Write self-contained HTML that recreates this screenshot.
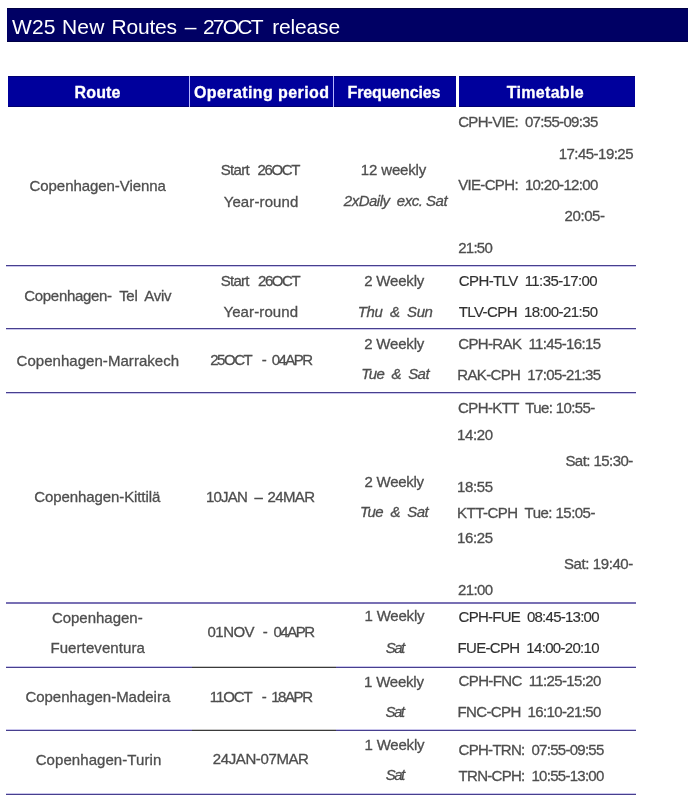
<!DOCTYPE html>
<html><head><meta charset="utf-8">
<style>
html,body{margin:0;padding:0;background:#fff;width:693px;height:800px;overflow:hidden}
body{position:relative;font-family:"Liberation Sans",sans-serif}
.t{position:absolute;white-space:pre;line-height:20px;-webkit-text-stroke:0.3px currentColor}
#tx{position:absolute;left:0;top:0;width:693px;height:800px;will-change:transform}
.r{position:absolute}
.ln{position:absolute;left:6px;width:630px;height:1px;background:#473f8e}
.lf{position:absolute;left:6px;width:630px;height:1px;background:#c9c5ec}
.bk{position:absolute;left:192px;width:144px;height:1px;background:#3a3a3a}
.bf{position:absolute;left:192px;width:144px;height:1px;background:#c8c8c8}
</style></head><body>
<div class="r" style="left:7px;top:8px;width:681px;height:34px;background:#000064;box-shadow:inset 0 1px 0 #000044,inset 0 -1px 0 #000044"></div>
<div class="r" style="left:8px;top:76px;width:627px;height:31px;background:#00009c;box-shadow:inset 0 1px 0 #000070,inset 0 -1px 0 #000070"></div>
<div class="r" style="left:189px;top:76px;width:1px;height:31px;background:#b8b8ff"></div>
<div class="r" style="left:333px;top:76px;width:1px;height:31px;background:#b8b8ff"></div>
<div class="r" style="left:456px;top:76px;width:3px;height:31px;background:#ffffff"></div>
<div class="ln" style="top:265px"></div><div class="lf" style="top:266px"></div>
<div class="ln" style="top:328px"></div><div class="lf" style="top:329px"></div>
<div class="ln" style="top:392px"></div><div class="lf" style="top:393px"></div>
<div class="ln" style="top:602px;background:#7870b4"></div><div class="ln" style="top:603px;background:#7870b4"></div>
<div class="ln" style="top:667px"></div><div class="lf" style="top:666px"></div>
<div class="bk" style="top:667px"></div><div class="bf" style="top:666px"></div>
<div class="ln" style="top:730px"></div><div class="lf" style="top:729px"></div>
<div class="bk" style="top:730px"></div><div class="bf" style="top:729px"></div>
<div class="ln" style="top:794px"></div><div class="lf" style="top:793px"></div>
<div id="tx"><div class="t" style="left:12.10px;top:16.62px;font-size:21px;font-weight:400;font-style:normal;color:#ffffff;letter-spacing:0.100px;-webkit-text-stroke:0">W25</div>
<div class="t" style="left:61.90px;top:16.62px;font-size:21px;font-weight:400;font-style:normal;color:#ffffff;letter-spacing:0.278px;-webkit-text-stroke:0">New</div>
<div class="t" style="left:111.50px;top:16.62px;font-size:21px;font-weight:400;font-style:normal;color:#ffffff;letter-spacing:-0.188px;-webkit-text-stroke:0">Routes</div>
<div class="t" style="left:184.70px;top:16.62px;font-size:21px;font-weight:400;font-style:normal;color:#ffffff;letter-spacing:-0.500px;-webkit-text-stroke:0">–</div>
<div class="t" style="left:202.90px;top:16.62px;font-size:21px;font-weight:400;font-style:normal;color:#ffffff;letter-spacing:-1.740px;-webkit-text-stroke:0">27OCT</div>
<div class="t" style="left:272.20px;top:16.62px;font-size:21px;font-weight:400;font-style:normal;color:#ffffff;letter-spacing:-0.166px;-webkit-text-stroke:0">release</div>
<div class="t" style="left:74.60px;top:83.26px;font-size:16px;font-weight:700;font-style:normal;color:#ffffff;letter-spacing:0.143px">Route</div>
<div class="t" style="left:193.90px;top:82.96px;font-size:16px;font-weight:700;font-style:normal;color:#ffffff;letter-spacing:0.412px">Operating period</div>
<div class="t" style="left:347.50px;top:82.96px;font-size:16px;font-weight:700;font-style:normal;color:#ffffff;letter-spacing:-0.136px">Frequencies</div>
<div class="t" style="left:506.70px;top:82.96px;font-size:16px;font-weight:700;font-style:normal;color:#ffffff;letter-spacing:0.313px">Timetable</div>
<div class="t" style="left:29.50px;top:176.00px;font-size:15px;font-weight:400;font-style:normal;color:#4e4e4e;letter-spacing:-0.056px">Copenhagen-Vienna</div>
<div class="t" style="left:220.80px;top:160.30px;font-size:15px;font-weight:400;font-style:normal;color:#4e4e4e;letter-spacing:-0.727px">Start</div>
<div class="t" style="left:257.60px;top:160.30px;font-size:15px;font-weight:400;font-style:normal;color:#4e4e4e;letter-spacing:-1.396px">26OCT</div>
<div class="t" style="left:223.70px;top:191.60px;font-size:15px;font-weight:400;font-style:normal;color:#4e4e4e;letter-spacing:0.108px">Year-round</div>
<div class="t" style="left:360.80px;top:160.30px;font-size:15px;font-weight:400;font-style:normal;color:#4e4e4e;letter-spacing:-0.150px">12 weekly</div>
<div class="t" style="left:343.80px;top:191.40px;font-size:15px;font-weight:400;font-style:italic;color:#4e4e4e;letter-spacing:-0.496px">2xDaily  exc. Sat</div>
<div class="t" style="left:458.20px;top:112.40px;font-size:15px;font-weight:400;font-style:normal;color:#4e4e4e;letter-spacing:-0.664px">CPH-VIE:  07:55-09:35</div>
<div class="t" style="left:558.70px;top:144.20px;font-size:15px;font-weight:400;font-style:normal;color:#4e4e4e;letter-spacing:-0.523px">17:45-19:25</div>
<div class="t" style="left:458.20px;top:174.90px;font-size:15px;font-weight:400;font-style:normal;color:#4e4e4e;letter-spacing:-0.664px">VIE-CPH:  10:20-12:00</div>
<div class="t" style="left:564.60px;top:206.40px;font-size:15px;font-weight:400;font-style:normal;color:#4e4e4e;letter-spacing:-0.427px">20:05-</div>
<div class="t" style="left:458.20px;top:238.00px;font-size:15px;font-weight:400;font-style:normal;color:#4e4e4e;letter-spacing:-0.724px">21:50</div>
<div class="t" style="left:24.30px;top:286.00px;font-size:15px;font-weight:400;font-style:normal;color:#4e4e4e;letter-spacing:-0.315px">Copenhagen-  Tel  Aviv</div>
<div class="t" style="left:220.80px;top:270.70px;font-size:15px;font-weight:400;font-style:normal;color:#4e4e4e;letter-spacing:-0.777px">Start</div>
<div class="t" style="left:258.00px;top:270.70px;font-size:15px;font-weight:400;font-style:normal;color:#4e4e4e;letter-spacing:-1.446px">26OCT</div>
<div class="t" style="left:223.40px;top:301.90px;font-size:15px;font-weight:400;font-style:normal;color:#4e4e4e;letter-spacing:0.119px">Year-round</div>
<div class="t" style="left:364.20px;top:270.70px;font-size:15px;font-weight:400;font-style:normal;color:#4e4e4e;letter-spacing:-0.188px">2 Weekly</div>
<div class="t" style="left:357.70px;top:301.50px;font-size:15px;font-weight:400;font-style:italic;color:#4e4e4e;letter-spacing:-0.397px">Thu  &amp;  Sun</div>
<div class="t" style="left:458.80px;top:270.70px;font-size:15px;font-weight:400;font-style:normal;color:#303030;letter-spacing:-0.606px;-webkit-text-stroke:0.15px currentColor">CPH-TLV  11:35-17:00</div>
<div class="t" style="left:458.80px;top:301.90px;font-size:15px;font-weight:400;font-style:normal;color:#303030;letter-spacing:-0.594px;-webkit-text-stroke:0.15px currentColor">TLV-CPH  18:00-21:50</div>
<div class="t" style="left:16.50px;top:350.70px;font-size:15px;font-weight:400;font-style:normal;color:#4e4e4e;letter-spacing:0.046px">Copenhagen-Marrakech</div>
<div class="t" style="left:210.20px;top:350.20px;font-size:15px;font-weight:400;font-style:normal;color:#4e4e4e;letter-spacing:-1.446px">25OCT</div>
<div class="t" style="left:261.70px;top:350.20px;font-size:15px;font-weight:400;font-style:normal;color:#4e4e4e;letter-spacing:-1.000px">-</div>
<div class="t" style="left:271.80px;top:350.20px;font-size:15px;font-weight:400;font-style:normal;color:#4e4e4e;letter-spacing:-1.574px">04APR</div>
<div class="t" style="left:364.20px;top:334.40px;font-size:15px;font-weight:400;font-style:normal;color:#4e4e4e;letter-spacing:-0.188px">2 Weekly</div>
<div class="t" style="left:361.20px;top:364.20px;font-size:15px;font-weight:400;font-style:italic;color:#4e4e4e;letter-spacing:-0.556px">Tue  &amp;  Sat</div>
<div class="t" style="left:458.20px;top:334.40px;font-size:15px;font-weight:400;font-style:normal;color:#4e4e4e;letter-spacing:-0.624px">CPH-RAK  11:45-16:15</div>
<div class="t" style="left:457.20px;top:364.60px;font-size:15px;font-weight:400;font-style:normal;color:#4e4e4e;letter-spacing:-0.630px">RAK-CPH  17:05-21:35</div>
<div class="t" style="left:34.30px;top:486.60px;font-size:15px;font-weight:400;font-style:normal;color:#4e4e4e;letter-spacing:-0.097px">Copenhagen-Kittilä</div>
<div class="t" style="left:205.90px;top:486.70px;font-size:15px;font-weight:400;font-style:normal;color:#4e4e4e;letter-spacing:-0.747px">10JAN</div>
<div class="t" style="left:254.50px;top:486.70px;font-size:15px;font-weight:400;font-style:normal;color:#4e4e4e;letter-spacing:-1.500px">–</div>
<div class="t" style="left:267.50px;top:486.70px;font-size:15px;font-weight:400;font-style:normal;color:#4e4e4e;letter-spacing:-0.621px">24MAR</div>
<div class="t" style="left:364.60px;top:471.70px;font-size:15px;font-weight:400;font-style:normal;color:#4e4e4e;letter-spacing:-0.273px">2 Weekly</div>
<div class="t" style="left:359.90px;top:502.40px;font-size:15px;font-weight:400;font-style:italic;color:#4e4e4e;letter-spacing:-0.516px">Tue  &amp;  Sat</div>
<div class="t" style="left:458.10px;top:398.20px;font-size:15px;font-weight:400;font-style:normal;color:#4e4e4e;letter-spacing:-0.626px">CPH-KTT  Tue: 10:55-</div>
<div class="t" style="left:457.10px;top:425.00px;font-size:15px;font-weight:400;font-style:normal;color:#4e4e4e;letter-spacing:-0.399px">14:20</div>
<div class="t" style="left:565.40px;top:451.00px;font-size:15px;font-weight:400;font-style:normal;color:#4e4e4e;letter-spacing:-0.549px">Sat: 15:30-</div>
<div class="t" style="left:457.10px;top:477.00px;font-size:15px;font-weight:400;font-style:normal;color:#4e4e4e;letter-spacing:-0.399px">18:55</div>
<div class="t" style="left:457.10px;top:502.90px;font-size:15px;font-weight:400;font-style:normal;color:#4e4e4e;letter-spacing:-0.530px">KTT-CPH  Tue: 15:05-</div>
<div class="t" style="left:457.10px;top:528.00px;font-size:15px;font-weight:400;font-style:normal;color:#4e4e4e;letter-spacing:-0.399px">16:25</div>
<div class="t" style="left:564.00px;top:554.00px;font-size:15px;font-weight:400;font-style:normal;color:#4e4e4e;letter-spacing:-0.409px">Sat: 19:40-</div>
<div class="t" style="left:458.10px;top:580.00px;font-size:15px;font-weight:400;font-style:normal;color:#4e4e4e;letter-spacing:-0.649px">21:00</div>
<div class="t" style="left:51.90px;top:607.60px;font-size:15px;font-weight:400;font-style:normal;color:#4e4e4e;letter-spacing:-0.011px">Copenhagen-</div>
<div class="t" style="left:50.40px;top:638.20px;font-size:15px;font-weight:400;font-style:normal;color:#4e4e4e;letter-spacing:0.097px">Fuerteventura</div>
<div class="t" style="left:207.50px;top:622.20px;font-size:15px;font-weight:400;font-style:normal;color:#4e4e4e;letter-spacing:-0.521px">01NOV</div>
<div class="t" style="left:262.70px;top:622.20px;font-size:15px;font-weight:400;font-style:normal;color:#4e4e4e;letter-spacing:-1.000px">-</div>
<div class="t" style="left:273.40px;top:622.20px;font-size:15px;font-weight:400;font-style:normal;color:#4e4e4e;letter-spacing:-1.474px">04APR</div>
<div class="t" style="left:364.60px;top:606.30px;font-size:15px;font-weight:400;font-style:normal;color:#4e4e4e;letter-spacing:-0.216px">1 Weekly</div>
<div class="t" style="left:385.80px;top:637.70px;font-size:15px;font-weight:400;font-style:italic;color:#4e4e4e;letter-spacing:-1.574px">Sat</div>
<div class="t" style="left:458.60px;top:607.10px;font-size:15px;font-weight:400;font-style:normal;color:#303030;letter-spacing:-0.743px;-webkit-text-stroke:0.15px currentColor">CPH-FUE  08:45-13:00</div>
<div class="t" style="left:457.60px;top:638.20px;font-size:15px;font-weight:400;font-style:normal;color:#303030;letter-spacing:-0.691px;-webkit-text-stroke:0.15px currentColor">FUE-CPH  14:00-20:10</div>
<div class="t" style="left:25.40px;top:686.60px;font-size:15px;font-weight:400;font-style:normal;color:#4e4e4e;letter-spacing:-0.015px">Copenhagen-Madeira</div>
<div class="t" style="left:209.80px;top:687.20px;font-size:15px;font-weight:400;font-style:normal;color:#4e4e4e;letter-spacing:-1.068px">11OCT</div>
<div class="t" style="left:261.70px;top:687.20px;font-size:15px;font-weight:400;font-style:normal;color:#4e4e4e;letter-spacing:-1.000px">-</div>
<div class="t" style="left:271.20px;top:687.20px;font-size:15px;font-weight:400;font-style:normal;color:#4e4e4e;letter-spacing:-1.424px">18APR</div>
<div class="t" style="left:364.10px;top:671.60px;font-size:15px;font-weight:400;font-style:normal;color:#4e4e4e;letter-spacing:-0.231px">1 Weekly</div>
<div class="t" style="left:385.50px;top:701.90px;font-size:15px;font-weight:400;font-style:italic;color:#4e4e4e;letter-spacing:-1.574px">Sat</div>
<div class="t" style="left:458.60px;top:671.10px;font-size:15px;font-weight:400;font-style:normal;color:#4e4e4e;letter-spacing:-0.639px">CPH-FNC  11:25-15:20</div>
<div class="t" style="left:457.60px;top:702.00px;font-size:15px;font-weight:400;font-style:normal;color:#4e4e4e;letter-spacing:-0.645px">FNC-CPH  16:10-21:50</div>
<div class="t" style="left:35.70px;top:749.60px;font-size:15px;font-weight:400;font-style:normal;color:#4e4e4e;letter-spacing:0.068px">Copenhagen-Turin</div>
<div class="t" style="left:212.80px;top:749.20px;font-size:15px;font-weight:400;font-style:normal;color:#4e4e4e;letter-spacing:-0.390px">24JAN-07MAR</div>
<div class="t" style="left:364.60px;top:735.00px;font-size:15px;font-weight:400;font-style:normal;color:#4e4e4e;letter-spacing:-0.216px">1 Weekly</div>
<div class="t" style="left:385.80px;top:765.00px;font-size:15px;font-weight:400;font-style:italic;color:#4e4e4e;letter-spacing:-1.574px">Sat</div>
<div class="t" style="left:458.60px;top:739.50px;font-size:15px;font-weight:400;font-style:normal;color:#4e4e4e;letter-spacing:-0.716px">CPH-TRN:  07:55-09:55</div>
<div class="t" style="left:458.60px;top:765.80px;font-size:15px;font-weight:400;font-style:normal;color:#4e4e4e;letter-spacing:-0.716px">TRN-CPH:  10:55-13:00</div></div>
</body></html>
